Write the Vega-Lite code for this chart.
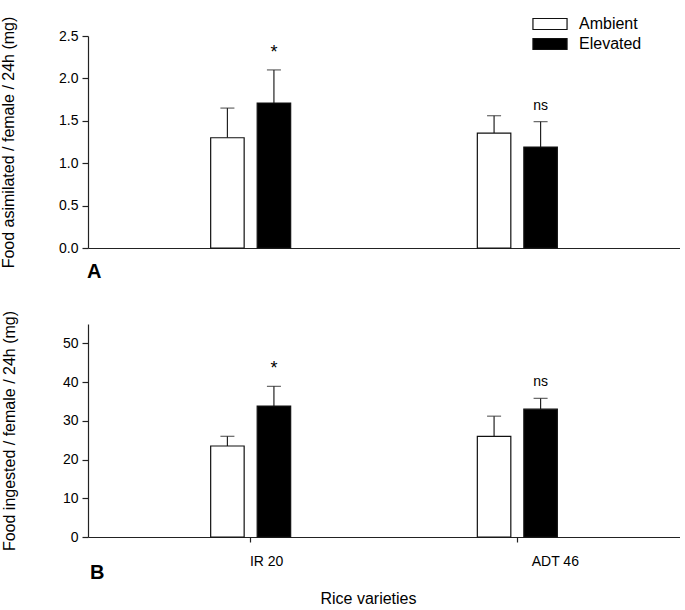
{
  "$schema": "https://vega.github.io/schema/vega-lite/v6.json",
  "padding": {"left": 0, "top": 16, "right": 0, "bottom": 0},
  "config": {
    "font": "Liberation Sans",
    "view": {"stroke": null},
    "axis": {"domainColor": "#222", "tickColor": "#222", "labelColor": "#000", "titleColor": "#000", "labelFont": "Liberation Sans", "titleFont": "Liberation Sans", "labelFontSize": 14, "titleFontSize": 16, "titleFontWeight": "normal", "grid": false, "domainWidth": 1.2, "tickWidth": 1.2}
  },
  "datasets": {
    "a": [
      {"variety": "IR 20", "treatment": "Ambient", "mean": 1.30, "upper": 1.65, "sig": ""},
      {"variety": "IR 20", "treatment": "Elevated", "mean": 1.71, "upper": 2.10, "sig": "*"},
      {"variety": "ADT 46", "treatment": "Ambient", "mean": 1.355, "upper": 1.56, "sig": ""},
      {"variety": "ADT 46", "treatment": "Elevated", "mean": 1.19, "upper": 1.49, "sig": "ns"}
    ],
    "b": [
      {"variety": "IR 20", "treatment": "Ambient", "mean": 23.5, "upper": 26.0, "sig": ""},
      {"variety": "IR 20", "treatment": "Elevated", "mean": 33.8, "upper": 38.9, "sig": "*"},
      {"variety": "ADT 46", "treatment": "Ambient", "mean": 26.0, "upper": 31.2, "sig": ""},
      {"variety": "ADT 46", "treatment": "Elevated", "mean": 33.0, "upper": 35.8, "sig": "ns"}
    ]
  },
  "spacing": 28,
  "vconcat": [
    {
      "width": 592,
      "height": 212,
      "data": {"name": "a"},
      "title": {"text": "A", "orient": "bottom", "anchor": "start", "frame": "group", "fontSize": 20, "fontWeight": "bold", "font": "Liberation Sans", "color": "#000", "offset": -6, "dx": -1},
      "encoding": {
        "x": {"field": "variety", "type": "nominal", "sort": ["IR 20", "ADT 46"], "scale": {"paddingInner": 0.7, "paddingOuter": 0.46}, "axis": {"title": null, "labels": false, "ticks": false}},
        "xOffset": {"field": "treatment", "type": "nominal", "sort": ["Ambient", "Elevated"], "scale": {"paddingInner": 0.28}}
      },
      "layer": [
        {
          "mark": {"type": "rule", "color": "#222", "strokeWidth": 1.2},
          "encoding": {
            "y": {"field": "mean", "type": "quantitative", "scale": {"domain": [0, 2.5], "nice": false}, "axis": {"title": "Food asimilated / female / 24h (mg)", "values": [0, 0.5, 1, 1.5, 2, 2.5], "format": ".1f", "tickSize": 6, "labelPadding": 4, "titlePadding": 42}},
            "y2": {"field": "upper"}
          }
        },
        {
          "mark": {"type": "tick", "color": "#222", "size": 14, "thickness": 1.2},
          "encoding": {"y": {"field": "upper", "type": "quantitative"}}
        },
        {
          "mark": {"type": "bar", "stroke": "#111", "strokeWidth": 1.2},
          "encoding": {
            "y": {"field": "mean", "type": "quantitative"},
            "fill": {"field": "treatment", "type": "nominal", "scale": {"domain": ["Ambient", "Elevated"], "range": ["white", "black"]},
              "legend": {"title": null, "orient": "none", "legendX": 454, "legendY": -20, "symbolType": "M-3.1,-1H3.1V1H-3.1Z", "symbolSize": 121, "symbolStrokeColor": "#111", "symbolStrokeWidth": 1.2, "symbolOpacity": 1, "labelFontSize": 16, "labelFont": "Liberation Sans", "labelColor": "#000", "labelOffset": 21, "rowPadding": 4}}
          }
        },
        {
          "mark": {"type": "text", "dy": -12, "baseline": "alphabetic", "color": "#000"},
          "encoding": {
            "y": {"field": "upper", "type": "quantitative"},
            "text": {"field": "sig"},
            "size": {"condition": {"test": "datum.sig === '*'", "value": 18}, "value": 14}
          }
        }
      ]
    },
    {
      "width": 592,
      "height": 213,
      "data": {"name": "b"},
      "title": {"text": "B", "orient": "bottom", "anchor": "start", "frame": "group", "fontSize": 20, "fontWeight": "bold", "font": "Liberation Sans", "color": "#000", "offset": 0, "dy": -43, "dx": 2},
      "encoding": {
        "x": {"field": "variety", "type": "nominal", "sort": ["IR 20", "ADT 46"], "scale": {"paddingInner": 0.7, "paddingOuter": 0.46},
          "axis": {"title": "Rice varieties", "labelAngle": 0, "labelFontSize": 14, "tickSize": 5, "labelPadding": 12, "labelOffset": {"condition": {"test": "datum.value === 'IR 20'", "value": 16}, "value": 38}, "titleFontSize": 16, "titlePadding": 22, "titleX": 280}},
        "xOffset": {"field": "treatment", "type": "nominal", "sort": ["Ambient", "Elevated"], "scale": {"paddingInner": 0.28}}
      },
      "layer": [
        {
          "mark": {"type": "rule", "color": "#222", "strokeWidth": 1.2},
          "encoding": {
            "y": {"field": "mean", "type": "quantitative", "scale": {"domain": [0, 55], "nice": false}, "axis": {"title": "Food ingested / female / 24h (mg)", "values": [0, 10, 20, 30, 40, 50], "tickSize": 6, "labelPadding": 4, "titlePadding": 45}},
            "y2": {"field": "upper"}
          }
        },
        {
          "mark": {"type": "tick", "color": "#222", "size": 14, "thickness": 1.2},
          "encoding": {"y": {"field": "upper", "type": "quantitative"}}
        },
        {
          "mark": {"type": "bar", "stroke": "#111", "strokeWidth": 1.2},
          "encoding": {
            "y": {"field": "mean", "type": "quantitative"},
            "fill": {"field": "treatment", "type": "nominal", "scale": {"domain": ["Ambient", "Elevated"], "range": ["white", "black"]}, "legend": null}
          }
        },
        {
          "mark": {"type": "text", "dy": -12, "baseline": "alphabetic", "color": "#000"},
          "encoding": {
            "y": {"field": "upper", "type": "quantitative"},
            "text": {"field": "sig"},
            "size": {"condition": {"test": "datum.sig === '*'", "value": 18}, "value": 14}
          }
        }
      ]
    }
  ]
}
